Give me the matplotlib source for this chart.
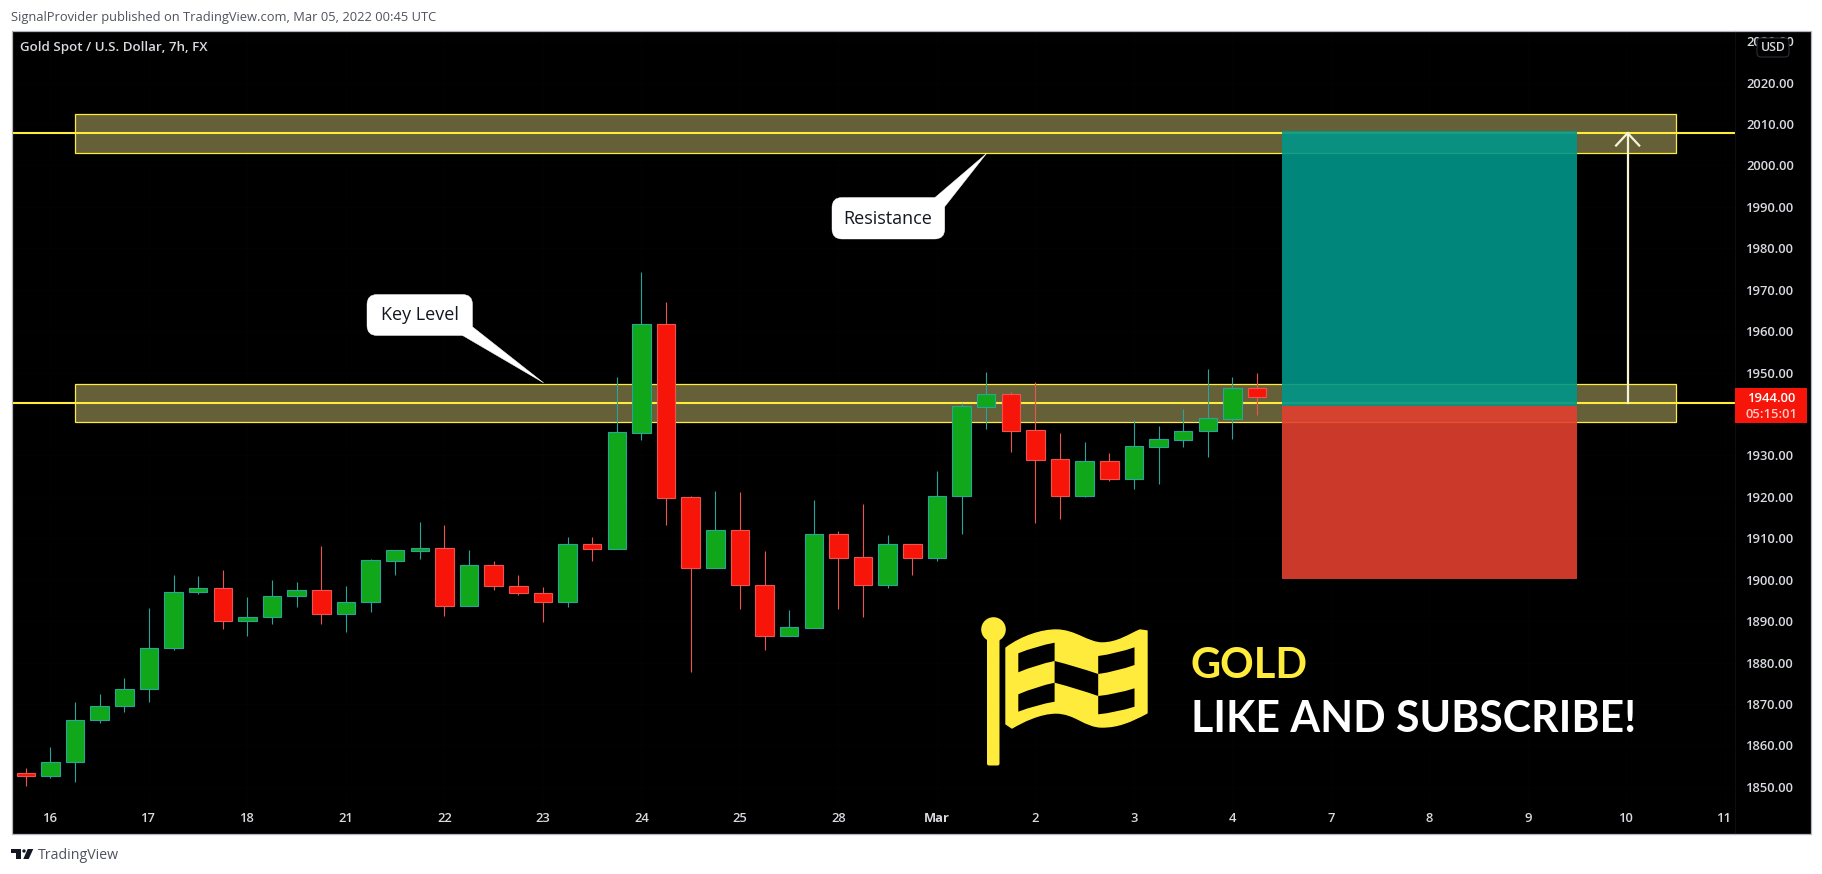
import matplotlib
matplotlib.use("Agg")
import matplotlib.pyplot as plt
from matplotlib.patches import Rectangle, FancyBboxPatch, Polygon, PathPatch, Circle
from matplotlib.path import Path

# candles, one value per 7h bar
opens=[1853.3,1852.5,1856.1,1866,1869.4,1873.6,1883.5,1896.9,1898.1,1890.1,1890.9,1896,1897.4,1891.6,1894.5,1904.6,1907,
	1907.6,1893.6,1903.5,1898.4,1896.8,1894.5,1908.6,1907.5,1935.5,1961.7,1919.9,1902.7,1911.9,1898.7,1886.3,1888.4,1911,
	1905.4,1898.6,1908.6,1905.3,1920.1,1941.8,1944.8,1936.1,1929.1,1920.3,1928.6,1924.4,1932.1,1933.8,1935.8,1938.9,1946.2]
highs=[1854.6,1859.6,1870.4,1872.4,1876.3,1893.2,1901.2,1901,1902.4,1895.8,1899.9,1899.4,1908.1,1898.5,1905,1907.1,1913.9,
	1913.2,1907.2,1904.5,1901.2,1898.2,1910.3,1910.3,1948.9,1974.3,1967,1920.2,1921.4,1921.2,1907,1892.7,1919.3,1911.8,
	1918.3,1910.8,1908.6,1926.3,1942.6,1950.2,1945.3,1947.7,1935.4,1933.3,1930.6,1938.6,1937.1,1941.2,1950.9,1948.9,1949.9]
lows=[1850.3,1852.2,1851.1,1865.3,1868,1870.4,1882.9,1896.6,1888.2,1886.5,1889.4,1893.5,1889.4,1887.4,1892.3,1901.2,1905.1,
	1891.3,1893.6,1897.6,1896.4,1889.7,1893.5,1904.6,1907.5,1933.7,1913.2,1877.8,1902.7,1892.8,1882.9,1886.3,1888.4,1893,
	1890.9,1898.1,1901.2,1904.6,1911.1,1936.4,1930.8,1913.7,1914.7,1920,1923.8,1921.9,1923.1,1932.1,1929.5,1934,1939.8]
closes=[1852.5,1856.1,1866,1869.4,1873.6,1883.5,1896.9,1898.1,1890.1,1890.9,1896,1897.4,1891.7,1894.5,1904.7,1907.1,1907.6,
	1893.6,1903.5,1898.4,1896.7,1894.5,1908.6,1907.5,1935.6,1961.7,1919.8,1902.7,1911.9,1898.6,1886.3,1888.5,1911,1905.3,
	1898.6,1908.6,1905.3,1920.1,1941.9,1944.8,1936,1929,1920.3,1928.6,1924.4,1932.2,1933.9,1935.8,1939,1946.2,1944]

date_labels=["16","17","18","21","22","23","24","25","28","Mar","2","3","4","7","8","9","10","11"]
price_ticks=[1850,1860,1870,1880,1890,1900,1910,1920,1930,1940,1950,1960,1970,1980,1990,2000,2010,2020,2030]

W,H=1822,874
# pixel box of the chart pane
L,R,T,B=12,1735,31,834
FRAME_R=1811
GOLD="#ffeb3b"
GREEN_BODY,GREEN_LINE="#10a81a","#26a69a"
RED_BODY,RED_LINE="#f7150a","#ef5350"
UI_FONT="Open Sans"
AXIS_TEXT="#d8dae0"

fig=plt.figure(figsize=(W/100,H/100),dpi=100,facecolor="white")
# black behind the price scale too, the pane axes stops at R
fig.add_artist(Rectangle((L/W,1-B/H),(FRAME_R-L)/W,(B-T)/H,transform=fig.transFigure,facecolor="black",lw=0,zorder=-1))
ax=fig.add_axes([L/W,1-B/H,(R-L)/W,(B-T)/H],facecolor="black")
ax.set_xlim(-0.56,69.41)
ax.set_ylim(1838.6,2032.45)

# zones and levels
ax.add_patch(Rectangle((2,2003.1),65,9.2,facecolor="#666039",edgecolor=GOLD,lw=0.9,zorder=2))
ax.add_patch(Rectangle((2,1938.05),65,9.15,facecolor="#666039",edgecolor=GOLD,lw=0.9,zorder=2))
ax.axhline(2007.8,color=GOLD,lw=1.5,zorder=3)
ax.axhline(1942.6,color=GOLD,lw=1.5,zorder=3)

# long position box
ax.add_patch(Rectangle((51,1942),12,66.3,facecolor="#009688",alpha=0.9,lw=0,zorder=4))
ax.add_patch(Rectangle((51,1900.2),12,41.8,facecolor="#e2402f",alpha=0.9,lw=0,zorder=4))

# arrow up to target
ax.plot([65.05,65.05],[1942.6,2007.8],color="#f7f3d6",lw=1.6,zorder=5)
ax.plot([64.58,65.05,65.52],[2004.8,2007.8,2004.8],color="#f7f3d6",lw=1.6,zorder=5)

# candles
for i in range(len(opens)):
	up=closes[i]>=opens[i]
	body=GREEN_BODY if up else RED_BODY
	line=GREEN_LINE if up else RED_LINE
	ax.vlines(i,lows[i],highs[i],color=line,lw=0.8,zorder=6)
	ax.bar(i,abs(closes[i]-opens[i]),bottom=min(opens[i],closes[i]),width=0.75,color=body,edgecolor=line,lw=0.8,zorder=7)

date_pos=[1+4*i for i in range(len(date_labels))]
ax.set_xticks(date_pos)
ax.set_xticklabels(date_labels,fontfamily=UI_FONT,fontsize=9.4,fontweight="semibold",color=AXIS_TEXT)
for lab,txt in zip(ax.get_xticklabels(),date_labels):
	if txt=="Mar":
		lab.set_fontweight("bold")
# 1940 sits fully behind the red price tag
price_labels=["" if p==1940 else "%.2f"%p for p in price_ticks]
ax.yaxis.tick_right()
ax.set_yticks(price_ticks)
ax.set_yticklabels(price_labels)
for tick in ax.yaxis.get_major_ticks():
	tick.label2.set_fontfamily(UI_FONT)
	tick.label2.set_fontsize(9.4)
	tick.label2.set_fontweight("semibold")
	tick.label2.set_color(AXIS_TEXT)
# date labels live inside the frame, above its bottom edge
ax.tick_params(axis="x",length=0,pad=-15.5)
ax.tick_params(axis="y",length=0,pad=8)
ax.grid(True,color="#030303",lw=0.7,zorder=0)
ax.set_axisbelow(True)
for s in ax.spines.values():
	s.set_visible(False)

# pixel overlay for the frame, drawing notes and the page furniture
ov=fig.add_axes([0,0,1,1],facecolor="none")
ov.set_xlim(0,W)
ov.set_ylim(H,0)
ov.axis("off")
ov.add_patch(Rectangle((L,30.5),FRAME_R-L,B-30.5,facecolor="none",edgecolor="#b2b5be",lw=0.9,zorder=1))
ov.plot([R,R],[T,B],color="#0d0d0d",lw=0.8,zorder=0)

def callout(x0,y0,x1,y1,tail,label,cx,cy):
	ov.add_patch(Polygon(tail,closed=True,facecolor="white",edgecolor="white",lw=0.3,zorder=3))
	ov.add_patch(FancyBboxPatch((x0,y0),x1-x0,y1-y0,boxstyle="round,pad=0,rounding_size=10",facecolor="white",edgecolor="white",lw=0.3,zorder=3))
	ov.text(cx,cy,label,color="#131722",fontsize=13,fontweight="medium",family=UI_FONT,ha="center",va="center",zorder=4)

callout(367,294.5,472.5,335.5,[(472.5,326.8),(462.6,335.5),(543.7,382.9)],"Key Level",420,315)
callout(832,197.5,944.7,239,[(935,197.5),(986.7,153.3),(944.7,206.7)],"Resistance",888,219)

# current price tag
ov.add_patch(Rectangle((1735,387.7),72,35,facecolor="#f7150a",lw=0,zorder=3))
ov.text(1772,398,"1944.00",color="white",fontsize=9.4,fontweight="semibold",family=UI_FONT,ha="center",va="center",zorder=4)
ov.text(1772,414,"05:15:01",color="#ffc9c4",fontsize=9.4,fontweight="semibold",family=UI_FONT,ha="center",va="center",zorder=4)

# currency badge
ov.add_patch(FancyBboxPatch((1757,38),32,19,boxstyle="round,pad=0,rounding_size=4",facecolor="black",edgecolor="#2a2e39",lw=0.8,zorder=3))
ov.text(1773,47.5,"USD",color=AXIS_TEXT,fontsize=8.8,fontweight="semibold",family=UI_FONT,ha="center",va="center",zorder=4)

# flag
ov.add_patch(FancyBboxPatch((987,636),12.5,129.5,boxstyle="round,pad=0,rounding_size=2",facecolor=GOLD,lw=0,zorder=3))
ov.add_patch(Circle((993.5,629.5),12.3,facecolor=GOLD,lw=0,zorder=3))
flag_verts=[(1006,648),(1022,636),(1042,630),(1056,630),(1075,630),(1088,643),(1102,643),(1118,643),(1130,634),(1140,630),
	(1147,631),(1147,713),(1130,722),(1118,727),(1102,727),(1085,727),(1075,713),(1056,713),(1040,713),(1022,722),(1012,728),(1006,724),(1006,648)]
flag_codes=[Path.MOVETO]+[Path.CURVE4]*9+[Path.LINETO,Path.LINETO]+[Path.CURVE4]*9+[Path.LINETO,Path.CLOSEPOLY]
ov.add_patch(PathPatch(Path(flag_verts,flag_codes),facecolor=GOLD,edgecolor=GOLD,lw=1,joinstyle="round",zorder=3))

def cell(p0,p1,p2,p3,bow):
	top=((p0[0]+p1[0])/2,(p0[1]+p1[1])/2+bow)
	bot=((p2[0]+p3[0])/2,(p2[1]+p3[1])/2+bow)
	v=[p0,top,p1,p2,bot,p3,p0]
	c=[Path.MOVETO,Path.CURVE3,Path.CURVE3,Path.LINETO,Path.CURVE3,Path.CURVE3,Path.CLOSEPOLY]
	ov.add_patch(PathPatch(Path(v,c),facecolor="black",lw=0,zorder=4))

cell((1018.3,653.3),(1054.6,642.7),(1054.6,661),(1018.3,672.3),-2)
cell((1018.3,694.3),(1054.6,682.7),(1054.6,701.7),(1018.3,711.7),-2)
cell((1054.6,661),(1098.2,674),(1098.2,696),(1054.6,682.7),-1)
cell((1098.2,656),(1134.5,647.3),(1134.5,665),(1098.2,674),2)
cell((1098.2,696),(1134.5,688.3),(1134.5,706.7),(1098.2,714.3),2)

ov.text(1191,678,"GOLD",color=GOLD,fontsize=30,family="Lato",fontweight="bold",ha="left",va="baseline",zorder=4)
ov.text(1191,732.5,"LIKE AND SUBSCRIBE!",color="white",fontsize=30.8,family="Lato",fontweight="bold",ha="left",va="baseline",zorder=4)

# page text
ov.text(20,47,"Gold Spot / U.S. Dollar, 7h, FX",color=AXIS_TEXT,fontsize=9.6,fontweight="semibold",family=UI_FONT,ha="left",va="center",zorder=4)
ov.text(11,17,"SignalProvider published on TradingView.com, Mar 05, 2022 00:45 UTC",color="#50535e",fontsize=9.27,family=UI_FONT,ha="left",va="center")
ov.text(37.5,855.5,"TradingView",color="#50535e",fontsize=10.2,family=UI_FONT,ha="left",va="center")

# logo
ov.add_patch(Polygon([(11,849),(20.7,849),(20.7,859),(15.7,859),(15.7,852.5),(11,852.5)],closed=True,facecolor="#131722",lw=0))
ov.add_patch(Circle((24,851),1.7,facecolor="#131722",lw=0))
ov.add_patch(Polygon([(27.7,849),(33.3,849),(28.7,859),(23.3,859)],closed=True,facecolor="#131722",lw=0))

fig.savefig("out.png",dpi=100,facecolor="white")
